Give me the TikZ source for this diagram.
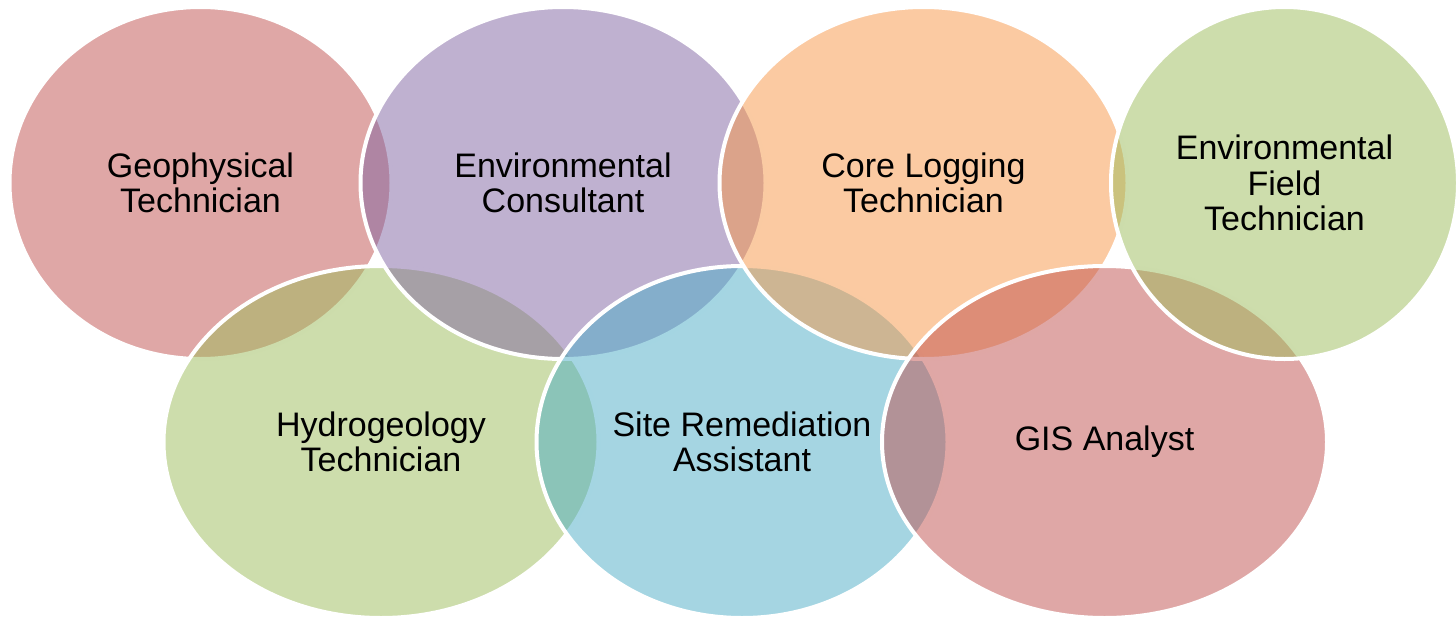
\documentclass[tikz,border=0pt]{standalone}
\usepackage{fontspec}
\setmainfont{Liberation Sans}
\usetikzlibrary{shapes.geometric}
\definecolor{accred}{HTML}{C0504D}
\definecolor{accpurple}{HTML}{8064A2}
\definecolor{accorange}{HTML}{F79646}
\definecolor{accgreen}{HTML}{9BBB59}
\definecolor{accblue}{HTML}{4BACC6}
\begin{document}
\begin{tikzpicture}[x=1pt, y=-1pt, font=\fontsize{34}{35.3}\selectfont,
  bubble/.style={ellipse, draw=white, line width=4pt, fill opacity=0.5, text opacity=1, align=center, inner sep=0pt, minimum height=352pt}]
\useasboundingbox (0,0) rectangle (1456,616);
\node[bubble, fill=accred, minimum width=382pt] (geo) at (200.5,183) {Geophysical\\Technician};
\node[bubble, fill=accgreen, minimum width=435pt] (hydro) at (381,442) {Hydrogeology\\Technician};
\node[bubble, fill=accpurple, minimum width=405pt] (consult) at (563,183) {Environmental\\Consultant};
\node[bubble, fill=accblue, minimum width=411pt] (site) at (742,442) {Site Remediation\\Assistant};
\node[bubble, fill=accorange, minimum width=408pt] (core) at (923.5,183) {Core Logging\\Technician};
\node[bubble, fill=accred, minimum width=445pt] (gis) at (1104.5,442) {GIS Analyst};
\node[bubble, fill=accgreen, minimum width=347pt] (field) at (1284.5,183) {Environmental\\Field\\Technician};
\end{tikzpicture}
\end{document}
